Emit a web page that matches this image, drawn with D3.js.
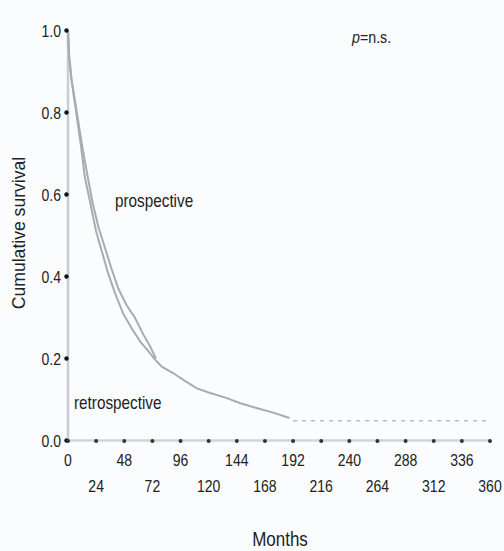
<!DOCTYPE html>
<html>
<head>
  <script src="https://d3js.org/d3.v7.min.js"></script>
  <style>
    body { margin: 0; background: #fbfcfe; }
    svg text { font-family: "Liberation Sans", Arial, sans-serif; fill: #222; }
  </style>
</head>
<body>
  <div id="chart"></div>
  <script>
    // survival curves (months, cumulative survival)
    var prospMonths = [0, 1, 3, 7, 12, 17, 21, 26, 31.5, 37, 43, 50, 57, 64, 70, 75];
    var prospSurv = [1.0, 0.93, 0.88, 0.81, 0.72, 0.64, 0.58, 0.52, 0.47, 0.42, 0.37, 0.33, 0.30, 0.26, 0.23, 0.20];
    var retroMonths = [0, 1, 3, 7, 11, 14.5, 19, 24, 29, 34, 40, 47, 55, 62, 68, 75];
    var retroSurv = [1.0, 0.94, 0.88, 0.80, 0.72, 0.64, 0.58, 0.51, 0.46, 0.41, 0.36, 0.31, 0.27, 0.24, 0.22, 0.195];
    // common tail after the curves merge
    var tailMonths = [75, 80, 90, 100, 110, 120, 135, 147, 160, 175, 189];
    var tailSurv = [0.195, 0.18, 0.164, 0.145, 0.127, 0.117, 0.104, 0.091, 0.08, 0.068, 0.055];
    // censored plateau (drawn dashed)
    var plateauMonths = [192, 360];
    var plateauSurv = [0.048, 0.048];

    var xTicks = [0, 24, 48, 72, 96, 120, 144, 168, 192, 216, 240, 264, 288, 312, 336, 360];
    var yTicks = [0, 0.2, 0.4, 0.6, 0.8, 1.0];

    var width = 504, height = 551;
    var squeeze = 0.85; // condensed look of the original type
    var svg = d3.select("#chart").append("svg")
      .attr("width", width)
      .attr("height", height);

    var x = d3.scaleLinear().domain([0, 360]).range([68, 490]);
    var y = d3.scaleLinear().domain([0, 1]).range([440.5, 30.5]);

    function pairs(ms, ss) {
      return ms.map(function(m, i) { return [m, ss[i]]; });
    }
    function at(px, py, s) {
      return "translate(" + px + "," + py + ") scale(" + (s || squeeze) + ",1)";
    }

    var line = d3.line()
      .x(function(d) { return x(d[0]); })
      .y(function(d) { return y(d[1]); });

    // axes lines
    svg.append("line")
      .attr("x1", x(0)).attr("x2", x(0))
      .attr("y1", y(1)).attr("y2", y(0))
      .attr("stroke", "#c9ccd2").attr("stroke-width", 2.5);
    svg.append("line")
      .attr("x1", x(0)).attr("x2", x(360))
      .attr("y1", y(0)).attr("y2", y(0))
      .attr("stroke", "#d4d4d8").attr("stroke-width", 2.5);

    // curves
    [pairs(prospMonths, prospSurv), pairs(retroMonths, retroSurv), pairs(tailMonths, tailSurv)]
      .forEach(function(d) {
        svg.append("path")
          .datum(d)
          .attr("fill", "none")
          .attr("stroke", "#a9abb0")
          .attr("stroke-width", 2)
          .attr("d", line);
      });

    svg.append("path")
      .datum(pairs(plateauMonths, plateauSurv))
      .attr("fill", "none")
      .attr("stroke", "#b9bcc2")
      .attr("stroke-width", 1.5)
      .attr("stroke-dasharray", "4,5")
      .attr("d", line);

    // tick dots
    svg.selectAll(".ydot").data(yTicks).enter().append("circle")
      .attr("cx", x(0) - 1.5)
      .attr("cy", function(d) { return y(d); })
      .attr("r", 2.2)
      .attr("fill", "#111");
    svg.selectAll(".xdot").data(xTicks).enter().append("circle")
      .attr("cx", function(d) { return x(d); })
      .attr("cy", y(0) + 0.5)
      .attr("r", 2)
      .attr("fill", "#333");

    // tick labels
    svg.selectAll(".ylab").data(yTicks).enter().append("text")
      .attr("transform", function(d) { return at(61, y(d) + 6); })
      .attr("text-anchor", "end")
      .style("font-size", "16.5px")
      .text(function(d) { return d.toFixed(1); });

    svg.selectAll(".xlab").data(xTicks).enter().append("text")
      .attr("transform", function(d, i) { return at(x(d), i % 2 == 0 ? 466 : 492); })
      .attr("text-anchor", "middle")
      .style("font-size", "16.5px")
      .text(function(d) { return d; });

    // titles
    svg.append("text")
      .attr("transform", "translate(25,233) rotate(-90) scale(0.95,1)")
      .attr("text-anchor", "middle")
      .style("font-size", "18.5px")
      .text("Cumulative survival");

    svg.append("text")
      .attr("transform", at(280, 546))
      .attr("text-anchor", "middle")
      .style("font-size", "20px")
      .text("Months");

    svg.append("text")
      .attr("transform", at(115, 207))
      .style("font-size", "18px")
      .text("prospective");

    svg.append("text")
      .attr("transform", at(74, 409))
      .style("font-size", "18px")
      .text("retrospective");

    var p = svg.append("text")
      .attr("transform", at(352, 43, 0.89))
      .style("font-size", "16px");
    p.append("tspan").style("font-style", "italic").text("p");
    p.append("tspan").text("=n.s.");
  </script>
</body>
</html>
